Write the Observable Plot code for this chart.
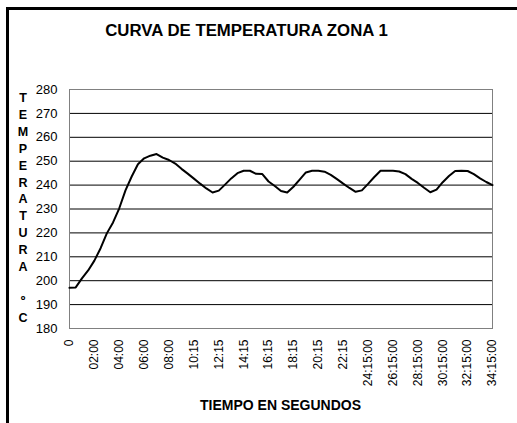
<!DOCTYPE html>
<html>
<head>
<meta charset="utf-8">
<script src="https://cdn.jsdelivr.net/npm/d3@7"></script>
<script src="https://cdn.jsdelivr.net/npm/@observablehq/plot@0.6"></script>
<style>
  html, body { margin: 0; padding: 0; background: #fff; }
  #wrap { position: relative; width: 517px; height: 423px; overflow: hidden; background: #fff; font-family: "Liberation Sans", Arial, sans-serif; color: #000; }
  #wrap svg { position: absolute; left: 0; top: 0; }
  .bl { position: absolute; background: #000; }
  #title { position: absolute; left: 0; width: 493px; top: 21px; line-height: 20px; text-align: center; font-weight: bold; font-size: 16.8px; }
  #xlabel { position: absolute; left: 69px; width: 423px; top: 396px; line-height: 18px; text-align: center; font-weight: bold; font-size: 14px; }
  #ylabel { position: absolute; left: 13px; width: 20px; top: 90px; line-height: 16.9px; text-align: center; font-weight: bold; font-size: 12.5px; }
</style>
</head>
<body>
<div id="wrap">
  <div class="bl" style="left:6px;top:7px;width:3px;height:416px"></div>
  <div class="bl" style="left:6px;top:7px;width:511px;height:3px"></div>
  <div id="title"></div>
  <div id="ylabel"></div>
  <div id="xlabel"></div>
</div>
<script>
const chartTitle = "CURVA DE TEMPERATURA ZONA 1";
const xTitle = "TIEMPO EN SEGUNDOS";
const yTitle = "TEMPERATURA ºC";

// Tick labels of the category axis (one every 4 samples)
const tickLabels = ["0","02:00","04:00","06:00","08:00","10:15","12:15","14:15","16:15","18:15","20:15","22:15","24:15:00","26:15:00","28:15:00","30:15:00","32:15:00","34:15:00"];
const samplesPerLabel = 4;

// Temperature readings (ºC)
const temps = [
  197.0, 197.2, 201.0, 204.3, 208.4, 213.6, 219.8, 224.4, 230.3, 237.8,
  243.6, 248.7, 251.2, 252.3, 253.0, 251.5, 250.5, 249.0, 246.8, 244.8,
  242.7, 240.6, 238.6, 236.9, 237.7, 240.2, 242.8, 245.0, 246.0, 246.0,
  244.7, 244.6, 241.5, 239.6, 237.5, 236.9, 239.3, 242.3, 245.3, 246.0,
  246.0, 245.6, 244.3, 242.5, 240.6, 238.8, 237.2, 237.8, 240.5, 243.4,
  246.0, 246.0, 246.0, 245.7, 244.6, 242.6, 240.9, 238.9, 237.0, 238.1,
  241.2, 243.8, 245.9, 246.0, 245.9, 244.6, 242.8, 241.3, 240.0
];

const yTicks = [180, 190, 200, 210, 220, 230, 240, 250, 260, 270, 280];

document.getElementById("title").textContent = chartTitle;
document.getElementById("xlabel").textContent = xTitle;
const yl = document.getElementById("ylabel");
yl.innerHTML = Array.from(yTitle).map(c => c === " " ? "&nbsp;" : c).join("<br>");

const data = temps.map((v, i) => ({i, v}));
const lastIndex = (tickLabels.length - 1) * samplesPerLabel;

const chart = Plot.plot({
  width: 517,
  height: 423,
  marginTop: 89,
  marginRight: 25,
  marginBottom: 95,
  marginLeft: 69,
  style: {fontFamily: "'Liberation Sans', Arial, sans-serif", background: "transparent", color: "#000"},
  x: {type: "linear", domain: [0, lastIndex]},
  y: {domain: [yTicks[0], yTicks[yTicks.length - 1]]},
  marks: [
    Plot.gridY(yTicks.slice(1, -1), {stroke: "#000", strokeOpacity: 1}),
    Plot.frame({stroke: "#808080"}),
    Plot.line(data, {x: "i", y: "v", stroke: "#000", strokeWidth: 2}),
    Plot.axisY({ticks: yTicks, tickSize: 0, tickPadding: 12, fontSize: 13, label: null}),
    Plot.axisX({
      ticks: d3.range(0, lastIndex + 1, samplesPerLabel),
      tickFormat: d => tickLabels[d / samplesPerLabel],
      tickRotate: -90, tickSize: 0, tickPadding: 11, fontSize: 12, label: null
    })
  ]
});
document.getElementById("wrap").insertBefore(chart, document.getElementById("wrap").firstChild);
</script>
</body>
</html>
